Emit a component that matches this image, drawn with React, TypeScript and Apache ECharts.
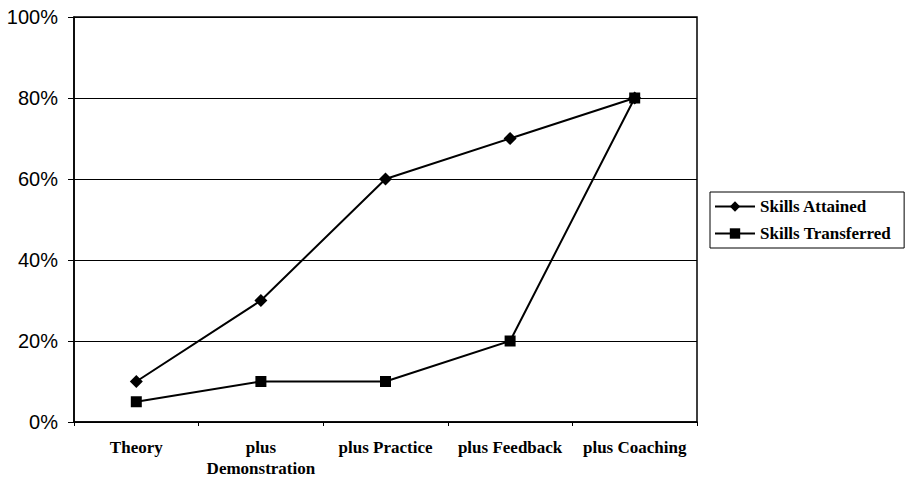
import React, { useEffect, useRef } from "react";
import * as echarts from "echarts";

const categories = ["Theory", "plus\nDemonstration", "plus Practice", "plus Feedback", "plus Coaching"];
const skillsAttained = [10, 30, 60, 70, 80];
const skillsTransferred = [5, 10, 10, 20, 80];
const yTicks = [0, 20, 40, 60, 80, 100];

export default function App() {
  const ref = useRef<HTMLDivElement>(null);
  useEffect(() => {
    if (!ref.current) return;
    const chart = echarts.init(ref.current, null, { renderer: "svg" });
    chart.setOption({
      animation: false,
      backgroundColor: "#ffffff",
      grid: {
        left: 74, right: 211, top: 17, bottom: 62,
        show: true, borderColor: "#000", borderWidth: 1.5, backgroundColor: "transparent",
      },
      legend: {
        left: 710, top: 192, orient: "vertical",
        borderColor: "#000", borderWidth: 1, backgroundColor: "#fff",
        padding: [6, 13, 6, 4], itemGap: 10, itemWidth: 40, itemHeight: 13,
        textStyle: { fontFamily: "Liberation Serif", fontWeight: "bold", fontSize: 17, color: "#000" },
        data: ["Skills Attained", "Skills Transferred"],
      },
      xAxis: {
        type: "category", data: categories, boundaryGap: true,
        axisLine: { lineStyle: { color: "#000", width: 1.5 } },
        axisTick: { show: true, length: 4, lineStyle: { color: "#000" } },
        axisLabel: {
          interval: 0, margin: 15, color: "#000", fontFamily: "Liberation Serif",
          fontWeight: "bold", fontSize: 17, lineHeight: 21,
        },
      },
      yAxis: {
        type: "value", min: 0, max: 100, interval: 20,
        axisLine: { show: true, lineStyle: { color: "#000", width: 1.5 } },
        axisTick: { show: true, length: 6, lineStyle: { color: "#000" } },
        splitLine: { show: true, lineStyle: { color: "#000", width: 1 } },
        axisLabel: {
          margin: 16, color: "#000", fontFamily: "Liberation Sans", fontSize: 20,
          formatter: (v: number) => (yTicks.includes(v) ? v + "%" : ""),
        },
      },
      series: [
        {
          name: "Skills Attained", type: "line", data: skillsAttained,
          symbol: "diamond", symbolSize: 13,
          lineStyle: { color: "#000", width: 2 }, itemStyle: { color: "#000" },
        },
        {
          name: "Skills Transferred", type: "line", data: skillsTransferred,
          symbol: "rect", symbolSize: 11,
          lineStyle: { color: "#000", width: 2 }, itemStyle: { color: "#000" },
        },
      ],
    });
    return () => chart.dispose();
  }, []);
  return <div ref={ref} style={{ width: 908, height: 484, position: "fixed", left: 0, top: 0 }} />;
}
